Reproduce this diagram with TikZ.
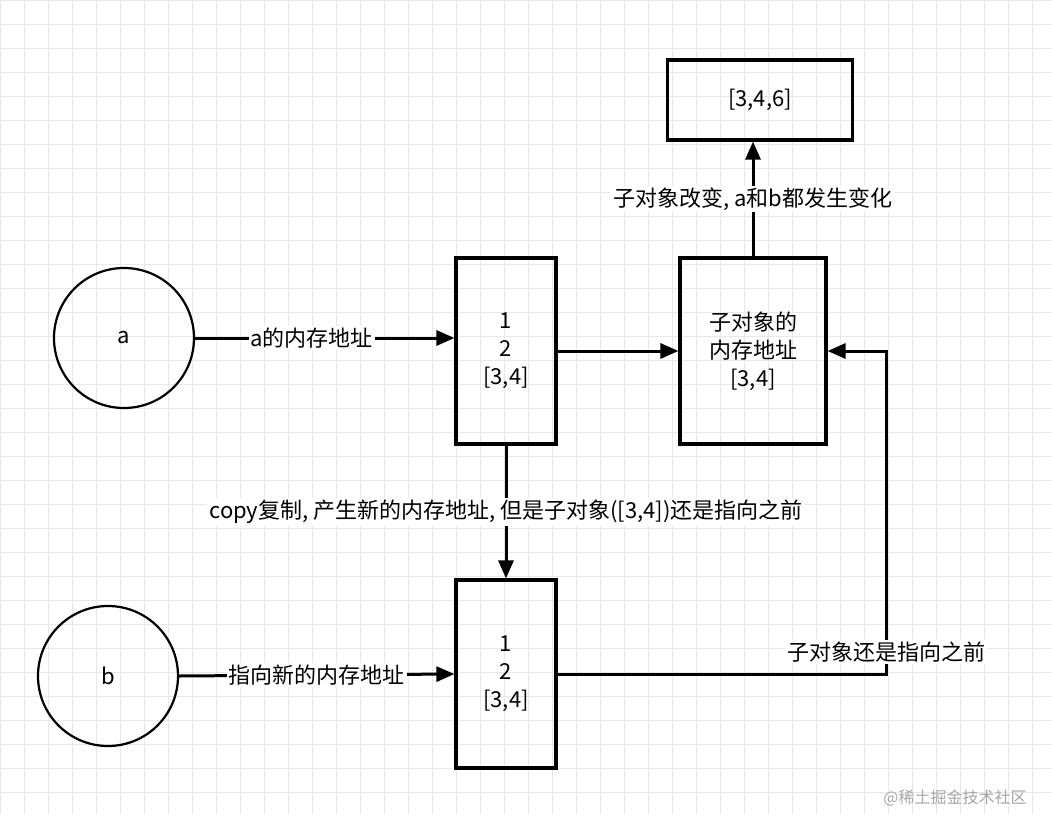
\documentclass[tikz,border=0pt]{standalone}
\usepackage{fontspec}
\setmainfont{Noto Sans CJK SC}
\usetikzlibrary{arrows.meta}
\begin{document}
\begin{tikzpicture}[x=1pt,y=-1pt,
  box/.style={draw,line width=3.2pt,inner sep=0pt,align=center,font=\fontsize{22}{28}\selectfont},
  circ/.style={draw,line width=2.2pt,circle,minimum size=140pt,inner sep=0pt,font=\fontsize{22}{26}\selectfont},
  arr/.style={line width=3pt,-{Triangle[length=18pt,width=15pt]}},
  lbl/.style={fill=white,inner sep=2pt,font=\fontsize{22}{26}\selectfont}]
\useasboundingbox (0,0) rectangle (1052,814);
\fill[white] (0,0) rectangle (1052,814);
\foreach \i in {0,24,...,1052} \draw[gray!18,line width=0.8pt] (\i,0) -- (\i,814);
\foreach \j in {0,24,...,814} \draw[gray!18,line width=0.8pt] (0,\j) -- (1052,\j);
\node[circ] (a) at (124,338) {a};
\node[circ] (b) at (108,676) {b};
\node[box,minimum width=100pt,minimum height=186pt] (m1) at (506,351) {1\\2\\{}[3,4]};
\node[box,minimum width=100pt,minimum height=188pt] (m2) at (506,674) {1\\2\\{}[3,4]};
\node[box,minimum width=146pt,minimum height=186pt] (s) at (753,351) {子对象的\\内存地址\\{}[3,4]};
\node[box,minimum width=185pt,minimum height=80pt] (t) at (760,100) {[3,4,6]};
\coordinate (c1) at (886,674);
\coordinate (c2) at (886,351);
\draw[arr] (a.east) -- (a.east -| m1.west) node[lbl,pos=0.45] {a的内存地址};
\draw[arr] (m1.east) -- (s.west);
\draw[arr] (s.north) -- (s.north |- t.south) node[lbl,midway] {子对象改变, a和b都发生变化};
\draw[arr] (m1.south) -- (m2.north) node[lbl,midway] {copy复制, 产生新的内存地址, 但是子对象([3,4])还是指向之前};
\draw[arr] (b.east) -- (m2.west) node[lbl,pos=0.5] {指向新的内存地址};
\draw[arr] (m2.east) -- (c1) -- (c2) -- (s.east);
\node[lbl] at (886,652) {子对象还是指向之前};
\node[font=\fontsize{16}{20}\selectfont,text=gray!70] at (955,798) {@稀土掘金技术社区};
\end{tikzpicture}
\end{document}
